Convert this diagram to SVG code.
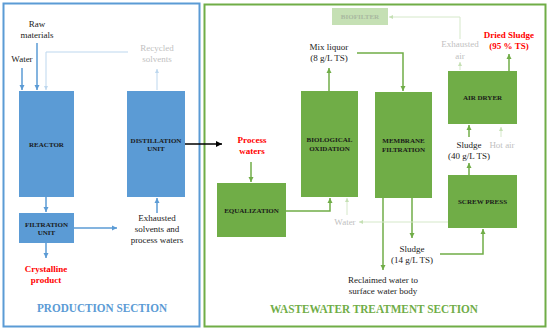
<svg xmlns="http://www.w3.org/2000/svg" width="550" height="331" viewBox="0 0 550 331">
<style>
text{font-family:"Liberation Serif","Times New Roman",serif;text-anchor:middle}
.bl{font-size:7px;font-weight:bold;fill:#1a1a1a}
.t{font-size:9px;fill:#222}
.g{font-size:9px;fill:#bfbfbf}
.r{font-size:9px;font-weight:bold;fill:#ff0000}
.bb{fill:#5b9bd5}
.gb{fill:#70ad47}
.lb{stroke:#5b9bd5;stroke-width:1.5;fill:none}
.lg{stroke:#70ad47;stroke-width:1.5;fill:none}
.llb{stroke:#bdd7ee;stroke-width:1;fill:none}
.llg{stroke:#d5e8c9;stroke-width:1;fill:none}
</style>
<defs>
<marker id="ab" markerWidth="6" markerHeight="6" refX="5" refY="3" orient="auto" markerUnits="userSpaceOnUse"><path d="M0,0.5L5,3L0,5.5z" fill="#5b9bd5"/></marker>
<marker id="ag" markerWidth="6" markerHeight="6" refX="5" refY="3" orient="auto" markerUnits="userSpaceOnUse"><path d="M0,0.5L5,3L0,5.5z" fill="#70ad47"/></marker>
<marker id="alb" markerWidth="6" markerHeight="6" refX="4" refY="2.5" orient="auto" markerUnits="userSpaceOnUse"><path d="M0,0.5L4,2.5L0,4.5z" fill="#bdd7ee"/></marker>
<marker id="alg" markerWidth="6" markerHeight="6" refX="4" refY="2.5" orient="auto" markerUnits="userSpaceOnUse"><path d="M0,0.5L4,2.5L0,4.5z" fill="#c5e0b4"/></marker>
<marker id="ak" markerWidth="7" markerHeight="7" refX="6" refY="3" orient="auto" markerUnits="userSpaceOnUse"><path d="M0,0L6,3L0,6z" fill="#000"/></marker>
</defs>
<rect width="550" height="331" fill="#fff"/>
<g id="production-section">
<rect x="3.5" y="3.5" width="196" height="323" fill="none" stroke="#5b9bd5" stroke-width="2"/>
<text x="102" y="312" font-size="13" font-weight="bold" fill="#5b9bd5" textLength="130" lengthAdjust="spacingAndGlyphs">PRODUCTION SECTION</text>
</g>
<g id="wastewater-section">
<rect x="204.5" y="4.5" width="341" height="322" fill="none" stroke="#70ad47" stroke-width="2"/>
<text x="374" y="313" font-size="13.5" font-weight="bold" fill="#70ad47" textLength="208" lengthAdjust="spacingAndGlyphs">WASTEWATER TREATMENT SECTION</text>
</g>
<g id="connectors">
<path class="lb" d="M22,68V90" marker-end="url(#ab)"/>
<path class="lb" d="M37,43V90" marker-end="url(#ab)"/>
<path class="llb" d="M128,52H46V90" marker-end="url(#alb)"/>
<path class="llb" d="M157,90V69" marker-end="url(#alb)"/>
<path class="lb" d="M46,197V212" marker-end="url(#ab)"/>
<path class="lb" d="M46,243V258" marker-end="url(#ab)"/>
<path class="lb" d="M74,228H117" marker-end="url(#ab)"/>
<path class="lb" d="M157,213V198" marker-end="url(#ab)"/>
<path d="M185,144H222" stroke="#000" stroke-width="1.5" fill="none" marker-end="url(#ak)"/>
<path class="lg" d="M251,162V182" marker-end="url(#ag)"/>
<path class="lg" d="M286,211H330V198" marker-end="url(#ag)"/>
<path class="lg" d="M329,91V68" marker-end="url(#ag)"/>
<path class="lg" d="M357,53H403V91" marker-end="url(#ag)"/>
<path class="lg" d="M383,198V270" marker-end="url(#ag)"/>
<path class="lg" d="M412,198V238" marker-end="url(#ag)"/>
<path class="lg" d="M440,254H483V229" marker-end="url(#ag)"/>
<path class="lg" d="M469,175V163" marker-end="url(#ag)"/>
<path class="lg" d="M469,137V125" marker-end="url(#ag)"/>
<path class="lg" d="M509,71V54" marker-end="url(#ag)"/>
<path class="llg" d="M501,137V127" marker-end="url(#alg)"/>
<path class="llg" d="M460,70V62" marker-end="url(#alg)"/>
<path class="llg" d="M460,39V17H389" marker-end="url(#alg)"/>
<path class="llg" d="M448,222H359" marker-end="url(#alg)"/>
<path class="llg" d="M347,215V198" marker-end="url(#alg)"/>
</g>
<g id="reactor"><rect class="bb" x="19" y="91" width="55" height="106"/><text class="bl" x="46.5" y="147">REACTOR</text></g>
<g id="distillation"><rect class="bb" x="127" y="91" width="58" height="106"/><text class="bl" x="156" y="143">DISTILLATION</text><text class="bl" x="156" y="151">UNIT</text></g>
<g id="filtration"><rect class="bb" x="19" y="213" width="55" height="30"/><text class="bl" x="46.5" y="227">FILTRATION</text><text class="bl" x="46.5" y="235">UNIT</text></g>
<g id="equalization"><rect class="gb" x="217" y="183" width="69" height="54"/><text class="bl" x="251.5" y="213">EQUALIZATION</text></g>
<g id="bio-oxidation"><rect class="gb" x="301" y="91" width="57" height="106"/><text class="bl" x="329.5" y="142">BIOLOGICAL</text><text class="bl" x="329.5" y="151">OXIDATION</text></g>
<g id="membrane"><rect class="gb" x="375" y="92" width="57" height="106"/><text class="bl" x="403.5" y="143">MEMBRANE</text><text class="bl" x="403.5" y="152">FILTRATION</text></g>
<g id="air-dryer"><rect class="gb" x="448" y="71" width="69" height="53"/><text class="bl" x="482.5" y="100">AIR DRYER</text></g>
<g id="screw-press"><rect class="gb" x="448" y="175" width="69" height="53"/><text class="bl" x="482.5" y="204">SCREW PRESS</text></g>
<g id="biofilter"><rect x="332" y="8" width="56" height="17" fill="#c5e0b4"/><text x="360" y="19" font-size="7" font-weight="bold" fill="#a9b8a0">BIOFILTER</text></g>
<g id="labels">
<text class="t" x="37" y="27">Raw</text>
<text class="t" x="37" y="38">materials</text>
<text class="t" x="22" y="62">Water</text>
<text class="g" x="157" y="51">Recycled</text>
<text class="g" x="157" y="62">solvents</text>
<text class="t" x="157" y="221">Exhausted</text>
<text class="t" x="157" y="232">solvents and</text>
<text class="t" x="157" y="243">process waters</text>
<text class="r" x="46" y="272">Crystalline</text>
<text class="r" x="46" y="283">product</text>
<text class="r" x="252" y="143">Process</text>
<text class="r" x="252" y="154">waters</text>
<text class="t" x="329" y="50">Mix liquor</text>
<text class="t" x="329" y="61">(8 g/L TS)</text>
<text class="g" x="460" y="47">Exhausted</text>
<text class="g" x="460" y="59">air</text>
<text class="r" x="509" y="38">Dried Sludge</text>
<text class="r" x="509" y="49">(95 % TS)</text>
<text class="t" x="469" y="148">Sludge</text>
<text class="t" x="469" y="159">(40 g/L TS)</text>
<text class="g" x="502" y="148">Hot air</text>
<text class="g" x="345" y="225">Water</text>
<text class="t" x="412" y="252">Sludge</text>
<text class="t" x="412" y="263">(14 g/L TS)</text>
<text class="t" x="383" y="283">Reclaimed water to</text>
<text class="t" x="383" y="294">surface water body</text>
</g>
</svg>
